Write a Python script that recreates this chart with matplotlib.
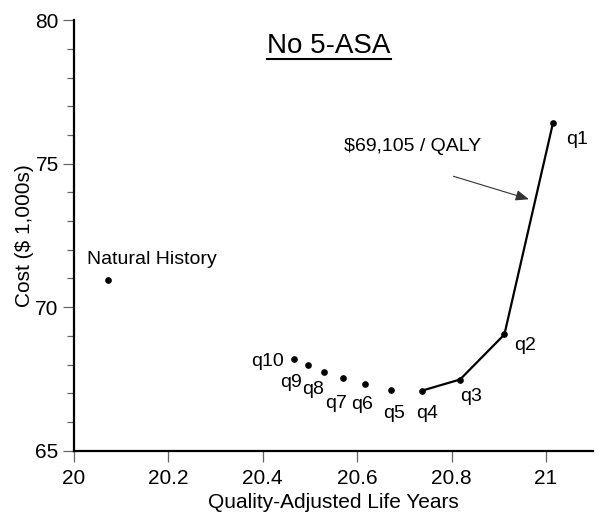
import matplotlib
matplotlib.use('Agg')
import matplotlib.pyplot as plt
from matplotlib.ticker import MultipleLocator

plt.rcParams['font.family'] = ['Liberation Sans', 'DejaVu Sans']

# --- datos ---
nh_qaly = 20.072
nh_cost = 70.93

labels = ['q1', 'q2', 'q3', 'q4', 'q5', 'q6', 'q7', 'q8', 'q9', 'q10']
qaly = [21.015, 20.912, 20.818, 20.737, 20.672, 20.616, 20.570, 20.530, 20.496, 20.467]
cost = [76.42, 69.05, 67.48, 67.09, 67.13, 67.31, 67.52, 67.75, 67.98, 68.18]
n_frontier = 4  # q1..q4 unidos por la linea de eficiencia

icer_text = '$69,105 / QALY'

# desplazamiento de cada etiqueta respecto a su punto (px)
offsets = [(24, -17), (21, -11), (11, -17), (5, -23), (3, -24),
           (-3, -20), (-7, -25), (-11, -18), (-17, -17), (-27, -2)]

fig = plt.figure(figsize=(6.04, 5.29), dpi=100)
ax = fig.add_axes([0.1225, 0.148, 0.8595, 0.814])

ax.plot(qaly[:n_frontier], cost[:n_frontier], color='black', lw=1.6, zorder=2)
ax.plot(qaly, cost, 'o', color='black', ms=3.8, zorder=3)
ax.plot([nh_qaly], [nh_cost], 'o', color='black', ms=3.8)

for lab, x, y, (dx, dy) in zip(labels, qaly, cost, offsets):
    ax.annotate(lab, (x, y), xytext=(dx * 0.72, dy * 0.72), textcoords='offset points',
                ha='center', va='center', fontsize=14)

ax.annotate('Natural History', (nh_qaly, nh_cost), xytext=(44 * 0.72, 21 * 0.72),
            textcoords='offset points', ha='center', va='center', fontsize=14)

# flecha hacia el segmento q2-q1
ax.annotate('', xy=(20.964, 73.76), xytext=(20.804, 74.56),
            arrowprops=dict(arrowstyle='-|>,head_length=0.8,head_width=0.32',
                            color='#333333', lw=0.8, shrinkA=0, shrinkB=0))
ax.text(20.718, 75.6, icer_text, ha='center', va='center', fontsize=14)

# titulo subrayado
ttl = fig.text(329 / 604, 1 - 53 / 529, 'No 5-ASA', ha='center', va='baseline', fontsize=20)
fig.canvas.draw()
bb = ttl.get_window_extent().transformed(fig.transFigure.inverted())
fig.add_artist(plt.Line2D([bb.x0, bb.x1], [1 - 58.5 / 529] * 2, color='black', lw=1.5,
                          transform=fig.transFigure))

ax.set_xlim(20, 21.1)
ax.set_ylim(65, 80)
ax.yaxis.set_major_locator(MultipleLocator(5))
ax.yaxis.set_minor_locator(MultipleLocator(1))
ax.set_xticks([20, 20.2, 20.4, 20.6, 20.8, 21])
ax.set_xticklabels(['20', '20.2', '20.4', '20.6', '20.8', '21'])

for s in ['top', 'right']:
    ax.spines[s].set_visible(False)
for s in ['left', 'bottom']:
    ax.spines[s].set_linewidth(1.6)
ax.tick_params(which='major', direction='out', length=8, width=0.9, color='#666666',
               labelsize=15, pad=3)
ax.tick_params(which='minor', direction='out', length=5, width=0.9, color='#666666')
ax.tick_params(axis='x', pad=5)

ax.set_xlabel('Quality-Adjusted Life Years', fontsize=15, labelpad=4)
ax.set_ylabel('Cost ($ 1,000s)', fontsize=15, labelpad=1)

fig.savefig('out.png', dpi=100)
